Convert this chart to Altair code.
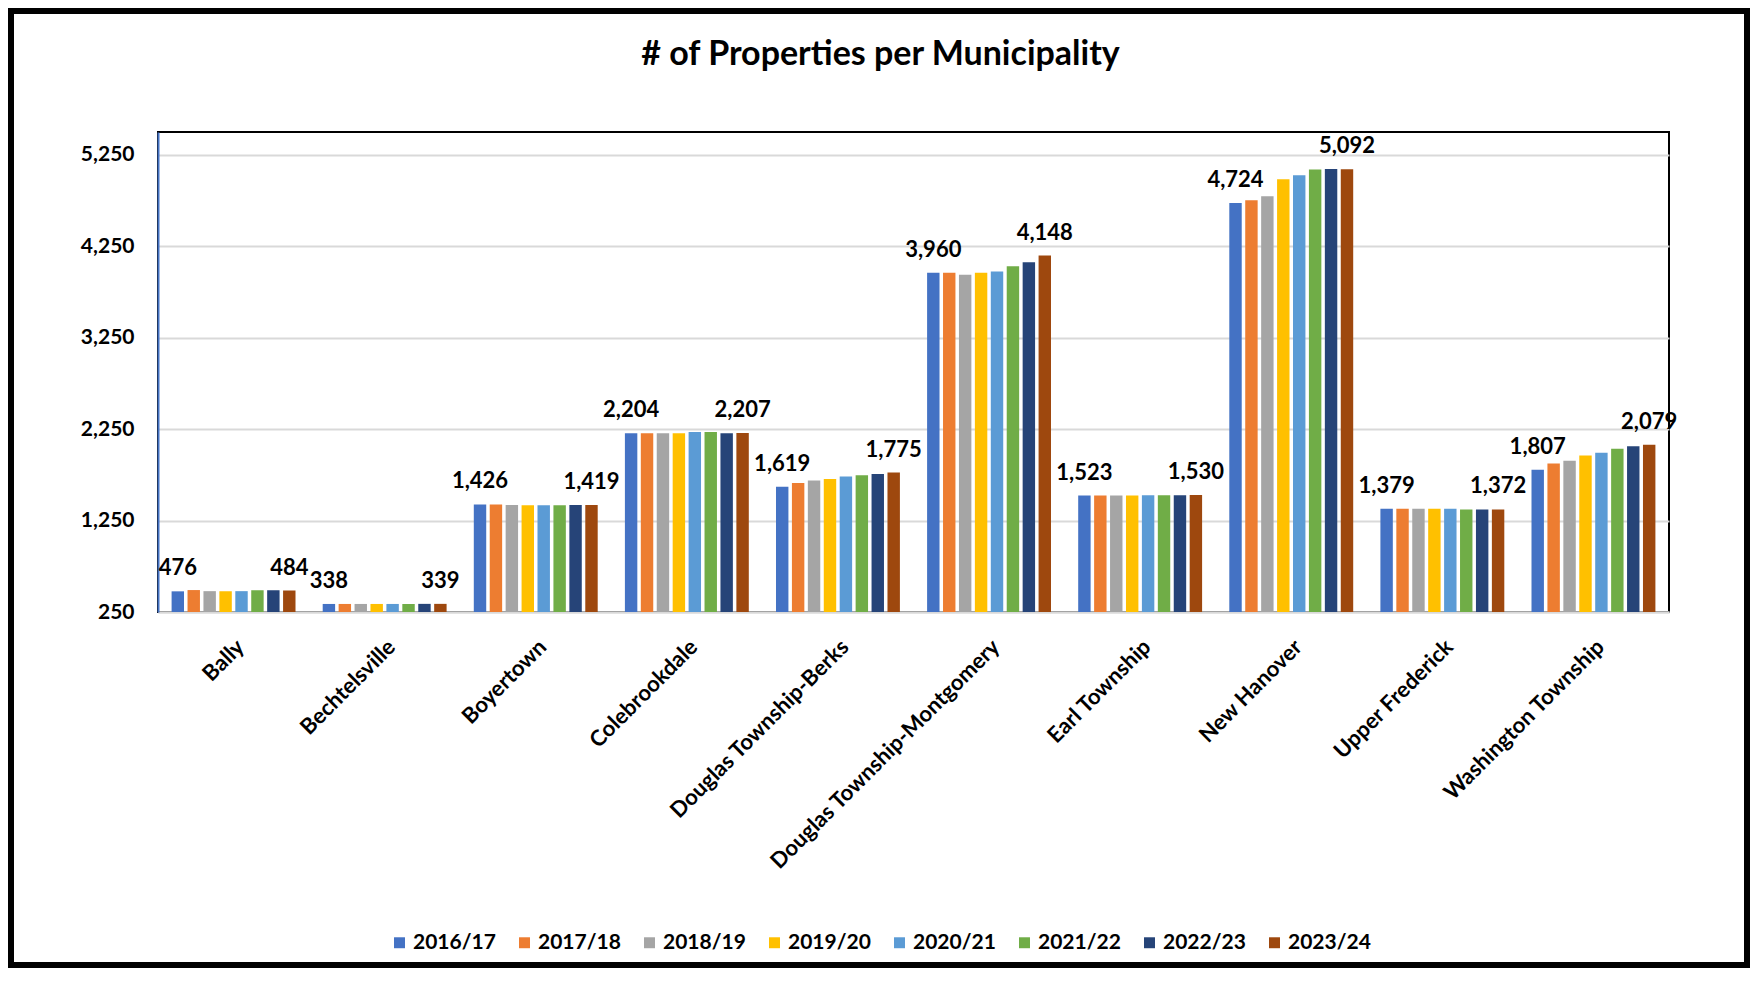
import altair as alt
import pandas as pd

municipalities = ["Bally", "Bechtelsville", "Boyertown", "Colebrookdale",
                  "Douglas Township-Berks", "Douglas Township-Montgomery",
                  "Earl Township", "New Hanover", "Upper Frederick",
                  "Washington Township"]
years = ["2016/17", "2017/18", "2018/19", "2019/20", "2020/21", "2021/22", "2022/23", "2023/24"]
colors = ["#4472C4", "#ED7D31", "#A5A5A5", "#FFC000", "#5B9BD5", "#70AD47", "#264478", "#9E480E"]

v2016_17 = [476, 338, 1426, 2204, 1619, 3960, 1523, 4724, 1379, 1807]
v2017_18 = [490, 338, 1426, 2204, 1662, 3960, 1524, 4753, 1379, 1874]
v2018_19 = [478, 338, 1419, 2204, 1687, 3940, 1524, 4797, 1379, 1904]
v2019_20 = [477, 338, 1418, 2204, 1706, 3960, 1525, 4984, 1379, 1962]
v2020_21 = [478, 338, 1418, 2218, 1731, 3973, 1526, 5027, 1378, 1991]
v2021_22 = [488, 338, 1418, 2219, 1746, 4031, 1527, 5090, 1372, 2035]
v2022_23 = [488, 339, 1419, 2206, 1760, 4075, 1528, 5095, 1371, 2064]
v2023_24 = [484, 339, 1419, 2207, 1775, 4148, 1530, 5092, 1372, 2079]

series = [v2016_17, v2017_18, v2018_19, v2019_20, v2020_21, v2021_22, v2022_23, v2023_24]
y_ticks = [250, 1250, 2250, 3250, 4250, 5250]

rows = []
for yr, vals in zip(years, series):
    for m, v in zip(municipalities, vals):
        rows.append({"Municipality": m, "Year": yr, "Value": v})
df = pd.DataFrame(rows)

W, H = 1511, 480
PL, PT = 150, 124
TOTAL_W, TOTAL_H = 1742, 960

FONT = "Lato"

x_axis = alt.Axis(title=None, labelAngle=-45, labelAlign="right",
                  labelBaseline="top", labelPadding=24, labelLimit=0,
                  labelFont=FONT, labelFontSize=22, labelFontWeight="bold",
                  labelColor="#000000", ticks=False,
                  domainColor="#D9D9D9", domainWidth=2)
y_axis = alt.Axis(title=None, values=y_ticks, format=",d", ticks=False,
                  labelPadding=24, labelFont=FONT, labelFontSize=21,
                  labelFontWeight="bold", labelColor="#000000",
                  gridColor="#D9D9D9", gridWidth=2,
                  domainColor="#4472C4", domainWidth=2)
x_scale = alt.Scale(paddingInner=0.18, paddingOuter=0.09)
xoff_scale = alt.Scale(domain=years, paddingInner=0.22)
y_scale = alt.Scale(domain=[250, 5500], zero=False, nice=False)

base = alt.Chart(df)

bars = base.mark_bar().encode(
    x=alt.X("Municipality:N", sort=municipalities, scale=x_scale, axis=x_axis),
    xOffset=alt.XOffset("Year:N", sort=years, scale=xoff_scale),
    y=alt.Y("Value:Q", scale=y_scale, axis=y_axis),
    y2=alt.datum(250),
    color=alt.Color("Year:N", sort=years,
                    scale=alt.Scale(domain=years, range=colors),
                    legend=alt.Legend(title=None, orient="none", direction="horizontal",
                                      legendX=231, legendY=800,
                                      symbolType="square", symbolSize=120,
                                      symbolStrokeWidth=0,
                                      labelFont=FONT, labelFontSize=21,
                                      labelFontWeight="bold", labelColor="#000000",
                                      columnPadding=18, labelOffset=3)),
)

labels = base.transform_filter(
    alt.FieldOneOfPredicate(field="Year", oneOf=[years[0], years[-1]])
).mark_text(dy=-16, baseline="alphabetic", font=FONT, fontSize=22,
            fontWeight="bold", color="#000000").encode(
    x=alt.X("Municipality:N", sort=municipalities, scale=x_scale, axis=x_axis),
    xOffset=alt.XOffset("Year:N", sort=years, scale=xoff_scale),
    y=alt.Y("Value:Q", scale=y_scale, axis=y_axis),
    text=alt.Text("Value:Q", format=","),
)

frame = alt.Chart(alt.Data(values=[{}])).mark_rect(
    filled=False, stroke="#000000", strokeWidth=6
).encode(
    x=alt.value(3 - PL), x2=alt.value(TOTAL_W - 3 - PL),
    y=alt.value(3 - PT), y2=alt.value(TOTAL_H - 3 - PT),
)

chart = alt.layer(bars, labels, frame).properties(
    width=W, height=H,
    title=alt.TitleParams("# of Properties per Municipality", font=FONT, fontSize=34,
                          fontWeight="bold", color="#000000", anchor="middle",
                          frame="group", dx=-33, offset=-91, baseline="alphabetic"),
    autosize=alt.AutoSizeParams(type="none"),
    padding={"left": PL, "top": PT, "right": TOTAL_W - PL - W, "bottom": TOTAL_H - PT - H},
    background="#FFFFFF",
).configure_view(stroke="#000000", strokeWidth=2)

chart.save("out.html", embed_options={"renderer": "svg", "actions": False})
